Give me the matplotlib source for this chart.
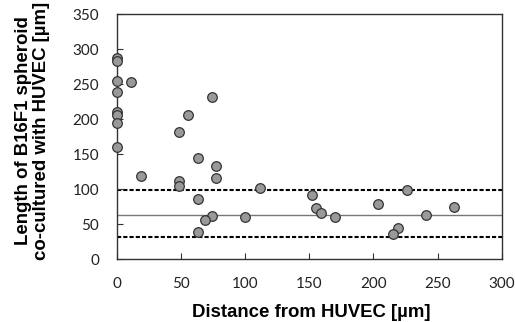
import matplotlib
matplotlib.use('Agg')
import matplotlib.pyplot as plt

# distance from HUVEC (um) and spheroid length (um)
distance = [0, 0, 0, 11, 0, 0, 0, 0, 0, 18.5, 48, 55.5, 74, 63, 77.5, 77.5,
            48, 48, 63, 74, 69, 63, 100, 111.5, 152, 155.5, 159.5, 170,
            203.5, 226, 219, 215, 241, 263]
length = [287, 283, 254, 253, 239, 210, 206, 194, 160, 119.5, 181, 206, 231,
          145, 133, 116, 112, 105, 86, 62, 56, 39, 61, 101.5, 92, 73, 66, 60,
          79, 99, 45, 36, 63, 75]

mean_len = 63
upper = 99
lower = 32

fig = plt.figure(figsize=(5.15, 3.22), dpi=100)
ax = fig.add_axes([0.2272, 0.1947, 0.7468, 0.7618])

ax.axhline(upper, color='black', lw=1.5, ls=(0, (2, 1)), zorder=1)
ax.axhline(lower, color='black', lw=1.5, ls=(0, (2, 1)), zorder=1)
ax.axhline(mean_len, color='#777777', lw=1.0, zorder=1)

ax.scatter(distance, length, s=48, facecolor='#999999', edgecolor='#333333',
           linewidth=0.9, zorder=3, clip_on=False)

ax.set_xlim(0, 300)
ax.set_ylim(0, 350)
ax.set_xticks(range(0, 301, 50))
ax.set_yticks(range(0, 351, 50))
ax.tick_params(direction='in', length=4, width=0.8, color='#333333',
               labelsize=11, pad=13)
for lab in ax.get_xticklabels() + ax.get_yticklabels():
    lab.set_family('Lato')
    lab.set_color('#222222')
for sp in ax.spines.values():
    sp.set_color('#333333')
    sp.set_linewidth(1.0)

ax.set_xlabel('Distance from HUVEC [µm]', fontsize=13.4, fontweight='bold',
              family='Liberation Sans', va='baseline')
ax.xaxis.set_label_coords(0.505, -0.235)
ax.set_ylabel('Length of B16F1 spheroid\nco-cultured with HUVEC [µm]',
              fontsize=13.4, fontweight='bold', family='Liberation Sans',
              linespacing=1.08, va='center')
ax.yaxis.set_label_coords(-0.22, 0.523)

fig.savefig('out.png', dpi=100, facecolor='white')
